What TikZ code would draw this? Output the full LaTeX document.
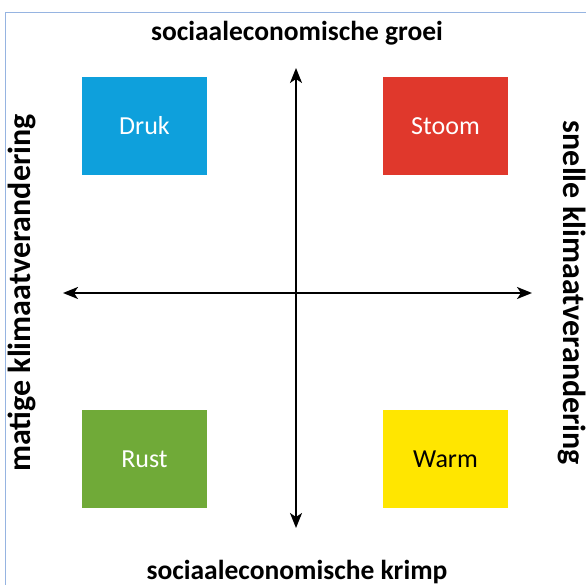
\documentclass[tikz,border=0pt]{standalone}
\usepackage{fontspec}
\setmainfont{Carlito}
\usetikzlibrary{positioning,arrows,arrows.meta}
\definecolor{drukblue}{RGB}{14,160,220}
\definecolor{stoomred}{RGB}{224,56,44}
\definecolor{rustgreen}{RGB}{112,170,56}
\definecolor{warmyellow}{RGB}{255,230,0}
\definecolor{framebl}{RGB}{150,180,225}
\tikzset{
scen/.style={
    >={Stealth[length=15pt,width=12pt,inset=4pt]},
    x=1pt,
    y=-1pt,
    semithick
},
quad/.style={
    rectangle,
    minimum width=125pt,
    minimum height=98pt,
    inner sep=0pt,
    font=\fontsize{26}{28}\selectfont,
    text=white
},
axis/.style={
    <->,
    line width=2pt
},
axlabel/.style={
    font=\fontsize{27.5}{30}\selectfont\bfseries
},
sidelabel/.style={
    font=\fontsize{32}{34}\selectfont\bfseries
}}
\begin{document}
\begin{tikzpicture}[scen]
\useasboundingbox (0,0) rectangle (586,585);
\fill[white] (0,0) rectangle (586,585);
\draw[framebl, line width=1pt] (5,590) -- (5,13) -- (590,13);

\node    (druk)   [quad, fill=drukblue]   at (144.5,126)  {Druk};
\node    (stoom)  [quad, fill=stoomred]   at (445.5,126)  {Stoom};
\node    (rust)   [quad, fill=rustgreen]  at (144.5,459)  {Rust};
\node    (warm)   [quad, fill=warmyellow, text=black] at (445.5,459) {Warm};

\coordinate (top)    at (296,68);
\coordinate (bottom) at (296,528);
\coordinate (left)   at (63,293);
\coordinate (right)  at (532,293);

\node    (groei)  [axlabel] at (297,33)  {sociaaleconomische groei};
\node    (krimp)  [axlabel] at (297,572) {sociaaleconomische krimp};
\node    (matig)  [sidelabel, rotate=90]  at (22,293)  {matige klimaatverandering};
\node    (snel)   [sidelabel, rotate=-90] at (572,293) {snelle klimaatverandering};

\path    (top)   edge[axis]  (bottom);
\path    (left)  edge[axis]  (right);
\end{tikzpicture}
\end{document}
